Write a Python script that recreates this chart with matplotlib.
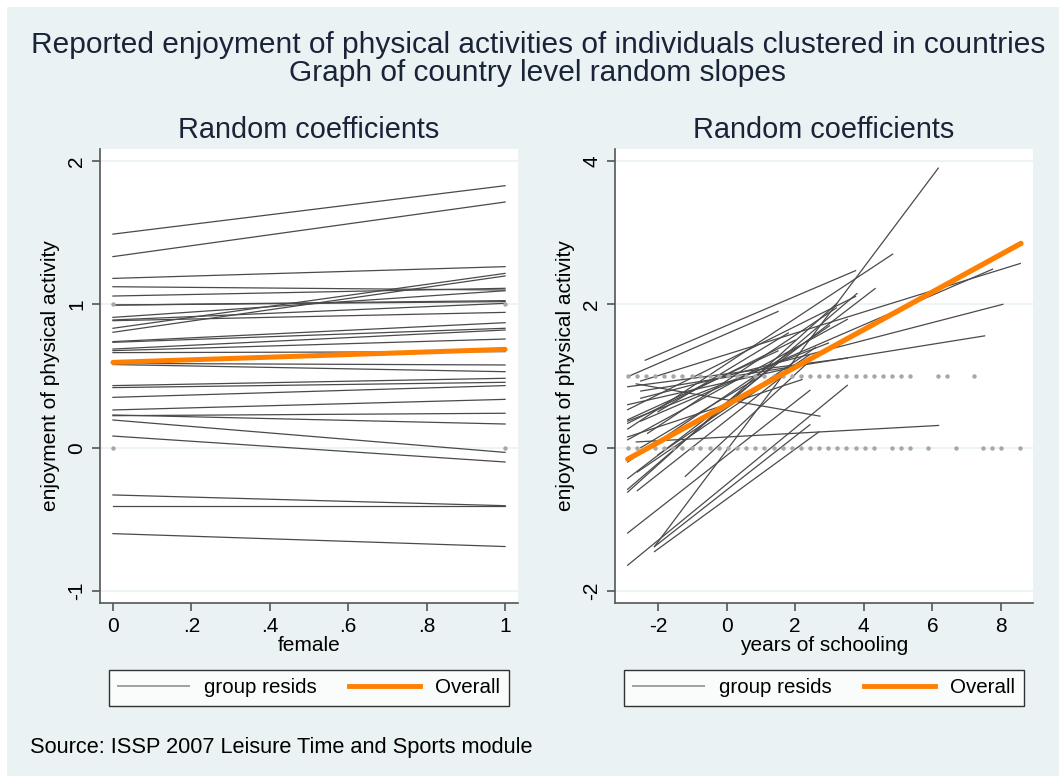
import matplotlib
matplotlib.use("Agg")
import matplotlib.pyplot as plt
from matplotlib.lines import Line2D
from matplotlib.patches import Rectangle

plt.rcParams["font.family"] = ["Liberation Sans", "DejaVu Sans"]
plt.rcParams["axes.unicode_minus"] = False

BG = "#eaf2f3"
LINE = "#4a4a4a"
ORANGE = "#ff8000"
DOT = "#a8a8a8"
TXT = "#1a2438"

# left panel: predicted enjoyment per country at female = 0 and female = 1
fem_y0 = [1.49, 1.333, 1.181, 1.123, 1.058, 0.995, 0.995, 0.909, 0.891, 0.886,
          0.833, 0.805, 0.740, 0.735, 0.688, 0.677, 0.663, 0.588, 0.58, 0.433,
          0.419, 0.351, 0.263, 0.228, 0.223, 0.193, 0.081, -0.33, -0.41, -0.60]
fem_y1 = [1.828, 1.714, 1.263, 1.100, 1.112, 1.026, 1.019, 1.095, 1.007, 0.944,
          1.216, 1.198, 0.872, 0.833, 0.821, 0.758, 0.670, 0.577, 0.530, 0.484,
          0.456, 0.433, 0.337, 0.165, 0.240, -0.033, -0.10, -0.405, -0.41, -0.69]
fem_overall = [0.595, 0.686]
fem_dots_x = [0, 0, 1, 1]
fem_dots_y = [0, 1, 0, 1]

# right panel: country lines over observed range of (centered) schooling
sch_x0 = [-2.10, -2.37, -2.88, -2.88, -2.88, -2.88, -2.88, -2.88, -2.88, -2.88,
          -2.63, -2.63, -2.88, -2.88, -2.10, -2.10, -2.88, -2.50, -2.50, -2.50,
          -2.50, -2.88, -2.88, -2.60, -2.60, -2.30, -2.00, -2.88, -1.20, -2.88,
          -2.50, -2.00, -2.88]
sch_y0 = [-1.38, 1.22, 0.26, -0.43, 0.53, -0.58, 0.11, -0.62, 0.37, 0.85,
          0.08, 0.89, -1.64, -1.19, -1.45, -1.38, 0.99, 0.93, 0.37, 0.69,
          0.79, 0.34, 0.39, -0.34, -0.60, 0.20, 0.50, 0.60, -0.40, -0.20,
          0.00, -0.10, 0.15]
sch_x1 = [6.17, 3.76, 4.84, 4.33, 3.76, 3.80, 3.52, 3.21, 2.97, 3.52,
          6.18, 2.72, 3.52, 2.43, 2.69, 2.43, 1.50, 8.56, 7.75, 8.05,
          7.52, 2.00, 1.50, 2.43, 1.90, 3.20, 1.80, 2.20, 2.40, 3.00,
          1.00, 2.60, 2.20]
sch_y1 = [3.90, 2.47, 2.70, 2.22, 2.11, 2.15, 1.79, 2.01, 1.46, 1.25,
          0.31, 0.44, 0.87, 0.80, 0.22, 0.32, 1.90, 2.57, 2.49, 2.00,
          1.56, 1.50, 1.35, 1.30, 1.10, 1.95, 1.60, 1.15, 1.20, 1.70,
          1.00, 1.40, 0.95]
sch_overall_x = [-2.88, 8.58]
sch_overall_y = [-0.16, 2.85]
sch_dots1 = [-2.88, -2.61, -2.35, -2.08, -1.82, -1.55, -1.29, -1.02, -0.76, -0.49,
             -0.22, 0.04, 0.31, 0.57, 0.84, 1.10, 1.37, 1.64, 1.90, 2.17,
             2.43, 2.70, 2.96, 3.23, 3.49, 3.76, 4.03, 4.29, 4.56, 4.82,
             5.09, 5.35, 6.15, 6.42, 7.21]
sch_dots0 = [-2.88, -2.61, -2.35, -2.08, -1.82, -1.55, -1.29, -1.02, -0.76, -0.49,
             -0.22, 0.04, 0.31, 0.57, 0.84, 1.10, 1.37, 1.64, 1.90, 2.17,
             2.43, 2.70, 2.96, 3.23, 3.49, 3.76, 4.03, 4.29, 4.82, 5.09,
             5.35, 5.88, 6.68, 7.48, 7.74, 8.01, 8.54]


def style_axes(ax, yticks, ylabels, xticks, xlabels):
    ax.set_facecolor("white")
    for s in ["top", "right"]:
        ax.spines[s].set_visible(False)
    for s in ["left", "bottom"]:
        ax.spines[s].set_color("#555555")
        ax.spines[s].set_linewidth(1.2)
    ax.set_yticks(yticks)
    ax.set_yticklabels(ylabels, rotation=90, va="center")
    ax.set_xticks(xticks)
    ax.set_xticklabels(xlabels)
    ax.tick_params(axis="both", labelsize=15, length=6, width=1.2,
                   color="#555555", pad=4)
    ax.grid(axis="y", color=BG, linewidth=1.2)
    ax.set_axisbelow(True)
    ax.set_ylabel("enjoyment of physical activity", fontsize=15, labelpad=5)
    ax.set_title("Random coefficients", fontsize=20.8, color=TXT, pad=8)
    handles = [Line2D([], [], color="#a0a0a0", lw=1.4),
               Line2D([], [], color=ORANGE, lw=3.5)]
    leg = ax.legend(handles, ["group resids", "Overall"], loc="center",
                    bbox_to_anchor=(0.5, -0.187), ncol=2, fontsize=14.8,
                    frameon=True, fancybox=False, edgecolor="black",
                    handlelength=3.45, handletextpad=0.75, columnspacing=1.55,
                    borderpad=0.42)
    leg.get_frame().set_linewidth(1.0)


fig = plt.figure(figsize=(10.59, 7.76), dpi=100, facecolor="white")
fig.patches.append(Rectangle((7 / 1059, 0), 1, 1 - 7 / 776, transform=fig.transFigure,
                             facecolor=BG, edgecolor="none", zorder=-10))

ax1 = fig.add_axes([100 / 1059, 173 / 776, 418 / 1059, 454 / 776])
ax2 = fig.add_axes([615 / 1059, 173 / 776, 418 / 1059, 454 / 776])

# left panel
for a, b in zip(fem_y0, fem_y1):
    ax1.plot([0, 1], [a, b], color=LINE, lw=0.9)
ax1.plot(fem_dots_x, fem_dots_y, "o", color=DOT, ms=3.2, mew=0)
ax1.plot([0, 1], fem_overall, color=ORANGE, lw=3.6, solid_capstyle="round")
ax1.set_xlim(-0.033, 1.033)
ax1.set_ylim(-1.084, 2.084)
style_axes(ax1, [-1, 0, 1, 2], ["-1", "0", "1", "2"],
           [0, 0.2, 0.4, 0.6, 0.8, 1], ["0", ".2", ".4", ".6", ".8", "1"])
ax1.set_xlabel("female", fontsize=15, labelpad=0)

# right panel
for xa, ya, xb, yb in zip(sch_x0, sch_y0, sch_x1, sch_y1):
    ax2.plot([xa, xb], [ya, yb], color=LINE, lw=0.9)
ax2.plot(sch_dots1, [1] * len(sch_dots1), "o", color=DOT, ms=3.2, mew=0)
ax2.plot(sch_dots0, [0] * len(sch_dots0), "o", color=DOT, ms=3.2, mew=0)
ax2.plot(sch_overall_x, sch_overall_y, color=ORANGE, lw=3.8, solid_capstyle="round")
ax2.set_xlim(-3.25, 8.93)
ax2.set_ylim(-2.167, 4.167)
style_axes(ax2, [-2, 0, 2, 4], ["-2", "0", "2", "4"],
           [-2, 0, 2, 4, 6, 8], ["-2", "0", "2", "4", "6", "8"])
ax2.set_xlabel("years of schooling", fontsize=15, labelpad=0)

fig.text(0.508, 1 - 45 / 776, "Reported enjoyment of physical activities of individuals clustered in countries",
         ha="center", va="center", fontsize=21.5, color=TXT)
fig.text(0.508, 1 - 73 / 776, "Graph of country level random slopes",
         ha="center", va="center", fontsize=21.5, color=TXT)
fig.text(30 / 1059, 1 - 748 / 776, "Source: ISSP 2007 Leisure Time and Sports module",
         ha="left", va="center", fontsize=15.7, color="black")

fig.savefig("out.png", dpi=100, facecolor=fig.get_facecolor())
